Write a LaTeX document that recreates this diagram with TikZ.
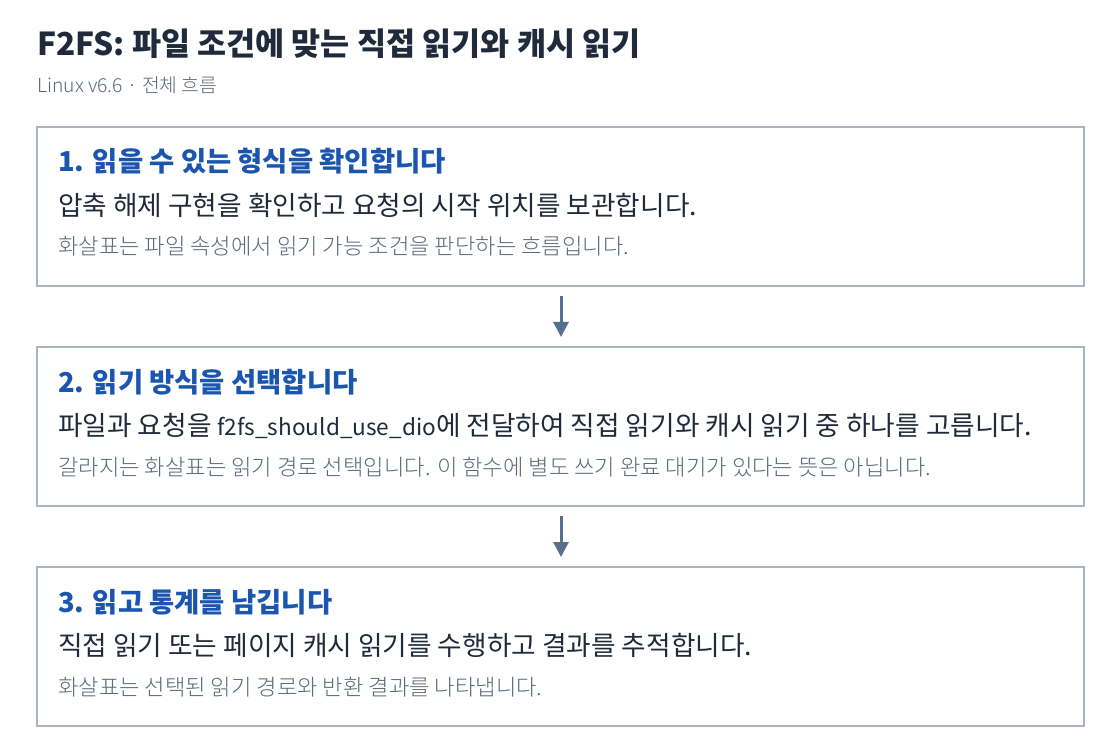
\documentclass[tikz,border=0pt]{standalone}
\usepackage{fontspec}
\setmainfont{Noto Sans CJK KR}
\newfontfamily\lightfont{Noto Sans CJK KR Light}
\usetikzlibrary{arrows.meta}
\definecolor{titlec}{HTML}{1F2A3A}
\definecolor{subc}{HTML}{5E6875}
\definecolor{headc}{HTML}{1A56B0}
\definecolor{bodyc}{HTML}{1F2A3A}
\definecolor{notec}{HTML}{5C6977}
\definecolor{boxc}{HTML}{A9B5C3}
\definecolor{arrc}{HTML}{566F8C}
\newcommand{\lat}[1]{{\fontsize{22.6}{27}\selectfont #1}}
\tikzset{
  titletext/.style={anchor=base west, inner sep=0pt, text=titlec, font=\fontsize{31.6}{38}\selectfont\bfseries},
  subtext/.style={anchor=base west, inner sep=0pt, text=subc, font=\fontsize{19.3}{23}\selectfont\lightfont},
  headtext/.style={anchor=base west, inner sep=0pt, text=headc, font=\fontsize{27.4}{33}\selectfont\bfseries},
  bodytext/.style={anchor=base west, inner sep=0pt, text=bodyc, font=\fontsize{26.7}{32}\selectfont},
  notetext/.style={anchor=base west, inner sep=0pt, text=notec, font=\fontsize{22.2}{27}\selectfont\lightfont},
  stepbox/.style={draw=boxc, line width=1.3pt, fill=white},
  flowarrow/.style={draw=arrc, line width=3pt, -{Triangle[width=15pt,length=15pt]}},
}
\begin{document}
\begin{tikzpicture}[x=1pt,y=-1pt]
\useasboundingbox (0,0) rectangle (1120,754);
\fill[white] (0,0) rectangle (1120,754);
\node[titletext] (title) at (37,56) {F2FS: 파일 조건에 맞는 직접 읽기와 캐시 읽기};
\node[subtext] (sub) at (37,93) {Linux v6.6 · 전체 흐름};

\draw[stepbox] (37,127) rectangle (1084,286);
\coordinate (a1s) at (561,296);
\coordinate (a1e) at (561,337);
\node[headtext] (h1) at (58,172) {1. 읽을 수 있는 형식을 확인합니다};
\node[bodytext] (t1) at (58,215.5) {압축 해제 구현을 확인하고 요청의 시작 위치를 보관합니다.};
\node[notetext] (n1) at (58,255) {화살표는 파일 속성에서 읽기 가능 조건을 판단하는 흐름입니다.};

\draw[stepbox] (37,347) rectangle (1084,506);
\coordinate (a2s) at (561,516);
\coordinate (a2e) at (561,557);
\node[headtext] (h2) at (58,392) {2. 읽기 방식을 선택합니다};
\node[bodytext] (t2) at (58,435.5) {파일과 요청을 \lat{f2fs\_should\_use\_dio}에 전달하여 직접 읽기와 캐시 읽기 중 하나를 고릅니다.};
\node[notetext] (n2) at (58,475) {갈라지는 화살표는 읽기 경로 선택입니다. 이 함수에 별도 쓰기 완료 대기가 있다는 뜻은 아닙니다.};

\draw[stepbox] (37,567) rectangle (1084,726);
\node[headtext] (h3) at (58,612) {3. 읽고 통계를 남깁니다};
\node[bodytext] (t3) at (58,655.5) {직접 읽기 또는 페이지 캐시 읽기를 수행하고 결과를 추적합니다.};
\node[notetext] (n3) at (58,695) {화살표는 선택된 읽기 경로와 반환 결과를 나타냅니다.};

\draw[flowarrow] (a1s) -- (a1e);
\draw[flowarrow] (a2s) -- (a2e);
\end{tikzpicture}
\end{document}
